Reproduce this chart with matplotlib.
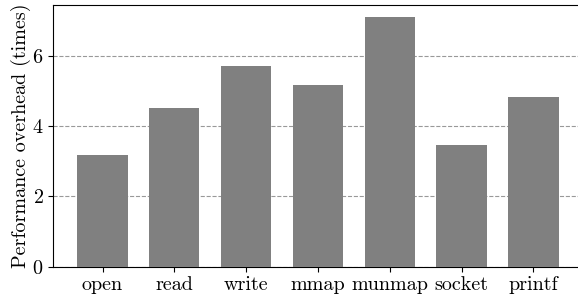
import numpy as np
import matplotlib
matplotlib.use("Agg")
import matplotlib.pyplot as plt

# Computer Modern look (cmr10 ships with matplotlib)
plt.rcParams['font.family'] = 'serif'
plt.rcParams['font.serif'] = ['cmr10', 'DejaVu Serif']
plt.rcParams['mathtext.fontset'] = 'cm'
plt.rcParams['axes.formatter.use_mathtext'] = True

calls = ['open', 'read', 'write', 'mmap', 'munmap', 'socket', 'printf']
overhead = [3.17, 4.53, 5.70, 5.16, 7.10, 3.46, 4.82]

fig = plt.figure(figsize=(5.78, 3.0), dpi=100)
ax = fig.add_axes([0.0923, 0.111, 0.9156, 0.873])

x = np.arange(len(calls))
ax.bar(x, overhead, width=0.7, color='#808080', zorder=3)

ax.set_xticks(x)
ax.set_xticklabels(calls, fontsize=14.5)
ax.set_yticks([0, 2, 4, 6])
ax.tick_params(axis='y', labelsize=14.5)
ax.set_ylabel('Performance overhead (times)', fontsize=14.5, labelpad=1)

ax.grid(axis='y', linestyle='--', color='#999999', linewidth=0.8, zorder=0)
ax.spines['right'].set_visible(False)

fig.savefig('out.png', dpi=100)
